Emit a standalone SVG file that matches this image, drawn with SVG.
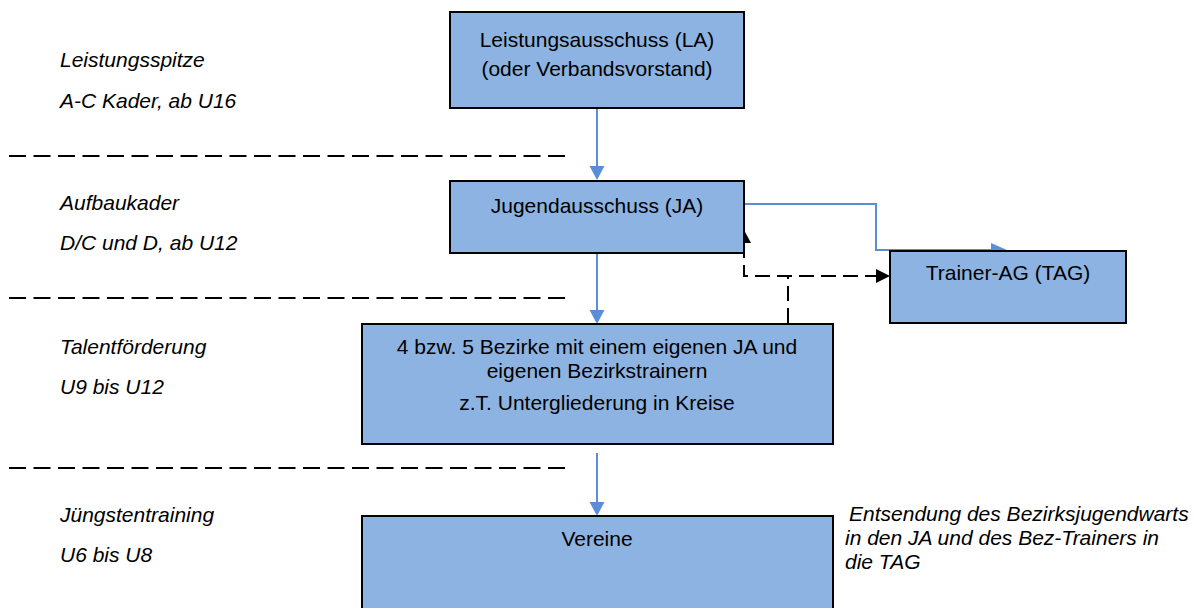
<svg xmlns="http://www.w3.org/2000/svg" width="1195" height="608" viewBox="0 0 1195 608">
<style>
.box{fill:#8DB3E2;stroke:#000;stroke-width:2}
.t{font-family:"Liberation Sans",Arial,sans-serif;font-size:21px;fill:#000}
.c{text-anchor:middle}
.i{font-style:italic}
.sep{stroke:#000;stroke-width:2;stroke-dasharray:17 7.5;fill:none}
.blue{stroke:#5A8ED8;stroke-width:2;fill:none}
.bh{fill:#5A8ED8}
.dash{stroke:#000;stroke-width:2;stroke-dasharray:15 7;fill:none}
</style>
<rect width="1195" height="608" fill="#fff"/>
<g id="levels">
<line class="sep" x1="9" y1="156" x2="565" y2="156"/>
<line class="sep" x1="9" y1="298" x2="565" y2="298"/>
<line class="sep" x1="9" y1="468" x2="565" y2="468"/>
<text class="t i" x="60" y="67">Leistungsspitze</text>
<text class="t i" x="60" y="108">A-C Kader, ab U16</text>
<text class="t i" x="60" y="210">Aufbaukader</text>
<text class="t i" x="60" y="250">D/C und D, ab U12</text>
<text class="t i" x="60" y="354">Talentförderung</text>
<text class="t i" x="60" y="394">U9 bis U12</text>
<text class="t i" x="60" y="522">Jüngstentraining</text>
<text class="t i" x="60" y="562">U6 bis U8</text>
</g>
<g id="connectors">
<line class="blue" x1="597" y1="108" x2="597" y2="167"/>
<polygon class="bh" points="597,180 589.5,166 604.5,166"/>
<line class="blue" x1="597" y1="253" x2="597" y2="311"/>
<polygon class="bh" points="597,324 589.5,310 604.5,310"/>
<line class="blue" x1="597" y1="453" x2="597" y2="503"/>
<polygon class="bh" points="597,516 589.5,502 604.5,502"/>
<path class="blue" d="M744,204 H876 V250 H993"/>
<polygon class="bh" points="1007,250 991,243 991,257"/>
<path class="dash" d="M788,323 V276"/>
<path class="dash" d="M744,243 V276 H877"/>
<polygon points="744,230 737,243 751,243" fill="#000"/>
<polygon points="890,276 876,269 876,283" fill="#000"/>
</g>
<g id="node-la">
<rect class="box" x="450" y="12" width="294" height="96"/>
<text class="t c" x="597" y="47">Leistungsausschuss (LA)</text>
<text class="t c" x="597" y="76">(oder Verbandsvorstand)</text>
</g>
<g id="node-ja">
<rect class="box" x="450" y="181" width="294" height="72"/>
<text class="t c" x="597" y="213">Jugendausschuss (JA)</text>
</g>
<g id="node-tag">
<rect class="box" x="890" y="251" width="236" height="72"/>
<text class="t c" x="1008" y="280">Trainer-AG (TAG)</text>
</g>
<g id="node-bezirke">
<rect class="box" x="362" y="324" width="471" height="120"/>
<text class="t c" x="597" y="354">4 bzw. 5 Bezirke mit einem eigenen JA und</text>
<text class="t c" x="597" y="378">eigenen Bezirkstrainern</text>
<text class="t c" x="597" y="410">z.T. Untergliederung in Kreise</text>
</g>
<g id="node-vereine">
<rect class="box" x="362" y="516" width="471" height="110"/>
<text class="t c" x="597" y="546">Vereine</text>
</g>
<g id="note">
<text class="t i" x="849" y="521">Entsendung des Bezirksjugendwarts</text>
<text class="t i" x="845" y="545">in den JA und des Bez-Trainers in</text>
<text class="t i" x="845" y="569">die TAG</text>
</g>
</svg>
